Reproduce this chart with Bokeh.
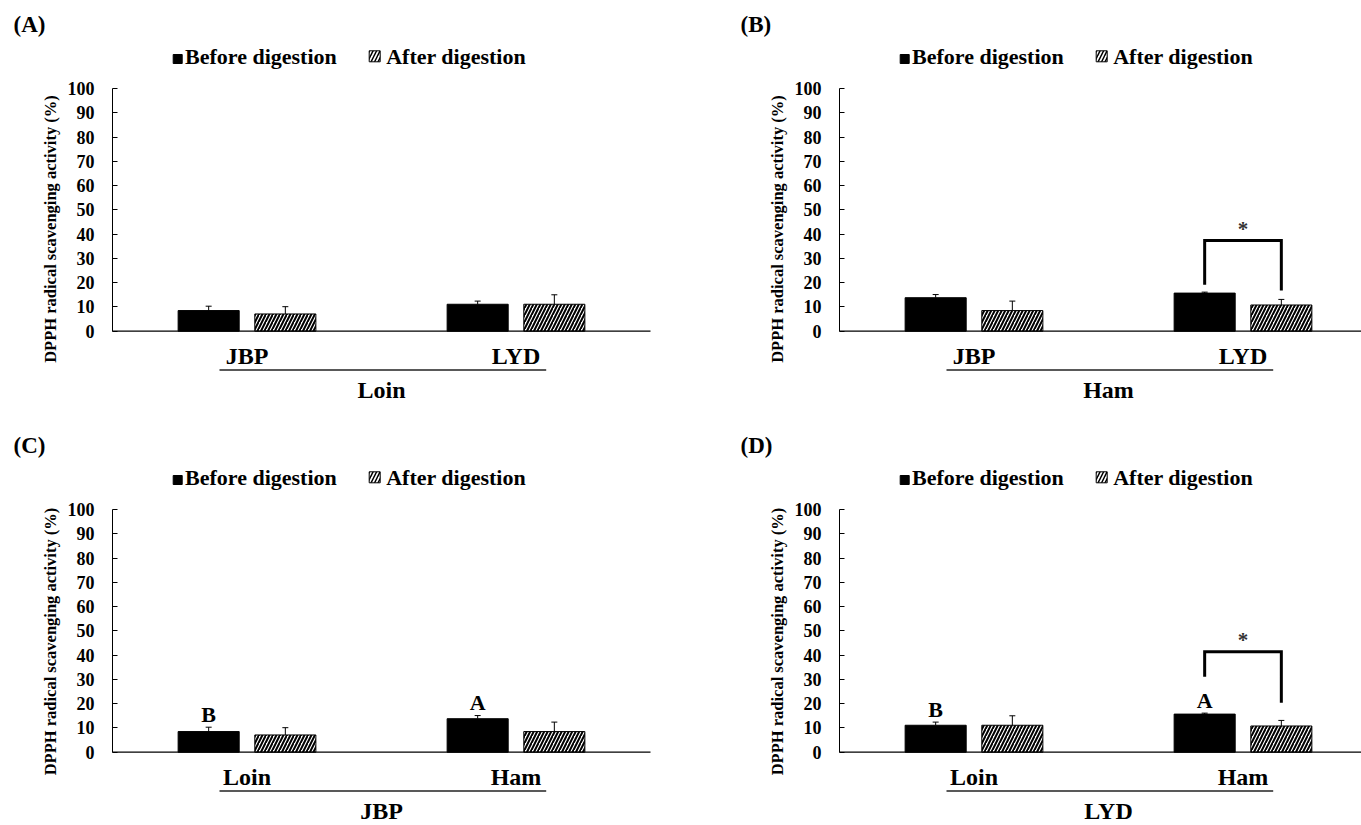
from bokeh.plotting import figure
from bokeh.layouts import column, row
from bokeh.models import Range1d, FixedTicker, Whisker, TeeHead, ColumnDataSource
from bokeh.core.properties import value
from bokeh.embed import file_html
from bokeh.resources import INLINE

# ---------------- data ----------------
panel_tags = ["(A)", "(B)", "(C)", "(D)"]
series_names = ["Before digestion", "After digestion"]
group_titles = ["Loin", "Ham", "JBP", "LYD"]
category_labels = [["JBP", "LYD"], ["JBP", "LYD"], ["Loin", "Ham"], ["Loin", "Ham"]]
before_mean = [[8.5, 11.1], [13.8, 15.7], [8.5, 13.8], [11.1, 15.7]]
before_sd = [[1.8, 1.3], [1.3, 0.4], [1.8, 1.3], [1.3, 0.4]]
after_mean = [[7.1, 11.1], [8.5, 10.8], [7.1, 8.5], [11.1, 10.8]]
after_sd = [[3.0, 3.9], [3.9, 2.3], [3.0, 3.9], [3.9, 2.3]]
letters = [None, None, ["B", "A"], ["B", "A"]]
# significance bracket: (category index, left leg end, right leg end, top)
brackets = [None, (1, 19.1, 16.8, 37.4), None, (1, 31.1, 20.4, 41.4)]
y_ticks = list(range(0, 101, 10))

FONT = value("Liberation Serif")
PX = 2.427          # px per y unit
CAT_PX = 269.0      # px per category
FRAME_LEFT = 112
FRAME_TOP = 36
Y100 = 88.0         # px of y=100 from top of figure
BAR_W = 0.227
OFF = 0.1425


def fx(px):
    return (px - FRAME_LEFT) / CAT_PX


def fy(py):
    return 100 + (Y100 - py) / PX


def make_panel(i, width, height):
    p = figure(width=width, height=height, output_backend="svg", toolbar_location=None,
               x_range=Range1d(0, fx(width)), y_range=Range1d(fy(height), fy(FRAME_TOP)),
               x_axis_location=None, min_border=0, min_border_left=FRAME_LEFT,
               min_border_top=FRAME_TOP)
    p.title.text = panel_tags[i]
    p.title.align = "left"
    p.title.offset = 13 - FRAME_LEFT
    p.title.standoff = 0
    p.title.vertical_align = "bottom"
    p.title.text_font = "Liberation Serif"
    p.title.text_font_style = "bold"
    p.title.text_font_size = "23px"
    p.title.text_color = "black"
    p.outline_line_color = None
    p.xgrid.visible = False
    p.ygrid.visible = False
    p.background_fill_color = "white"
    p.border_fill_color = "white"

    ax = p.yaxis[0]
    ax.bounds = (0, 100)
    ax.ticker = FixedTicker(ticks=y_ticks)
    ax.minor_tick_line_color = None
    ax.major_tick_in = 5
    ax.major_tick_out = 0
    ax.axis_line_color = "black"
    ax.major_tick_line_color = "black"
    ax.major_label_standoff = 18
    ax.major_label_text_font = "Liberation Serif"
    ax.major_label_text_font_style = "bold"
    ax.major_label_text_font_size = "18px"
    ax.major_label_text_color = "black"
    ax.axis_label = "DPPH radical scavenging activity (%)"
    ax.axis_label_text_font = "Liberation Serif"
    ax.axis_label_text_font_style = "bold"
    ax.axis_label_text_font_size = "16.5px"
    ax.axis_label_text_color = "black"
    ax.axis_label_standoff = 5

    centers = [0.5, 1.5]
    xb = [c - OFF for c in centers]
    xa = [c + OFF for c in centers]
    src_b = ColumnDataSource(dict(x=xb, top=before_mean[i],
                                  err=[m + s for m, s in zip(before_mean[i], before_sd[i])]))
    src_a = ColumnDataSource(dict(x=xa, top=after_mean[i],
                                  err=[m + s for m, s in zip(after_mean[i], after_sd[i])]))

    for src in (src_b, src_a):
        w = Whisker(source=src, base="x", lower="top", upper="err", dimension="height",
                    line_color="black", line_width=1,
                    upper_head=TeeHead(size=6, line_color="black", line_width=1), lower_head=None)
        p.add_layout(w)

    p.vbar(x="x", top="top", width=BAR_W, bottom=0, source=src_b,
           fill_color="black", line_color="black", line_width=1)
    p.vbar(x="x", top="top", width=BAR_W, bottom=0, source=src_a,
           fill_color="white", line_color="black", line_width=1,
           hatch_pattern="right_diagonal_line", hatch_color="black",
           hatch_weight=2, hatch_scale=7)

    # x axis line
    p.line(x=[0, 2], y=[0, 0], line_color="black", line_width=1.2)

    # category labels, underline and group title
    p.text(x=centers, y=[fy(355)] * 2, text=category_labels[i], text_font=FONT,
           text_font_style="bold", text_font_size="24px", text_align="center",
           text_baseline="middle", text_color="black")
    p.line(x=[fx(219), fx(545.7)], y=[fy(369.5)] * 2, line_color="#222222", line_width=1.5)
    p.text(x=[1.0], y=[fy(389.5)], text=[group_titles[i]], text_font=FONT,
           text_font_style="bold", text_font_size="24px", text_align="center",
           text_baseline="middle", text_color="black")

    # legend
    p.rect(x=[fx(177.2)], y=[fy(58.5)], width=9, height=9, width_units="screen",
           height_units="screen", fill_color="black", line_color="black")
    p.rect(x=[fx(374.2)], y=[fy(55.8)], width=11, height=11, width_units="screen",
           height_units="screen", fill_color="white", line_color="black", line_width=1,
           hatch_pattern="right_diagonal_line", hatch_color="black", hatch_weight=1.5,
           hatch_scale=7)
    p.text(x=[fx(184.5), fx(385.7)], y=[fy(55.8)] * 2, text=series_names, text_font=FONT,
           text_font_style="bold", text_font_size="22px", text_align="left",
           text_baseline="middle", text_color="black")

    # letters
    if letters[i]:
        ys = [m + s + 5.3 for m, s in zip(before_mean[i], before_sd[i])]
        p.text(x=xb, y=ys, text=letters[i], text_font=FONT, text_font_style="bold",
               text_font_size="22px", text_align="center", text_baseline="middle",
               text_color="black")

    # significance bracket
    if brackets[i]:
        k, yl, yr, yt = brackets[i]
        p.line(x=[xb[k], xb[k], xa[k], xa[k]], y=[yl, yt, yt, yr], line_color="black",
               line_width=3, line_join="miter")
        p.text(x=[centers[k]], y=[yt + 4.8], text=["*"], text_font=FONT, text_font_style="bold",
               text_font_size="21px", text_align="center", text_baseline="middle",
               text_color="#333333")
    return p


W1, W2 = 727, 634
H1, H2 = 421, 404
pa = make_panel(0, W1, H1)
pb = make_panel(1, W2, H1)
pc = make_panel(2, W1, H2)
pd = make_panel(3, W2, H2)

layout = column(row(pa, pb), row(pc, pd))
open("out.html", "w").write(file_html(layout, INLINE))
